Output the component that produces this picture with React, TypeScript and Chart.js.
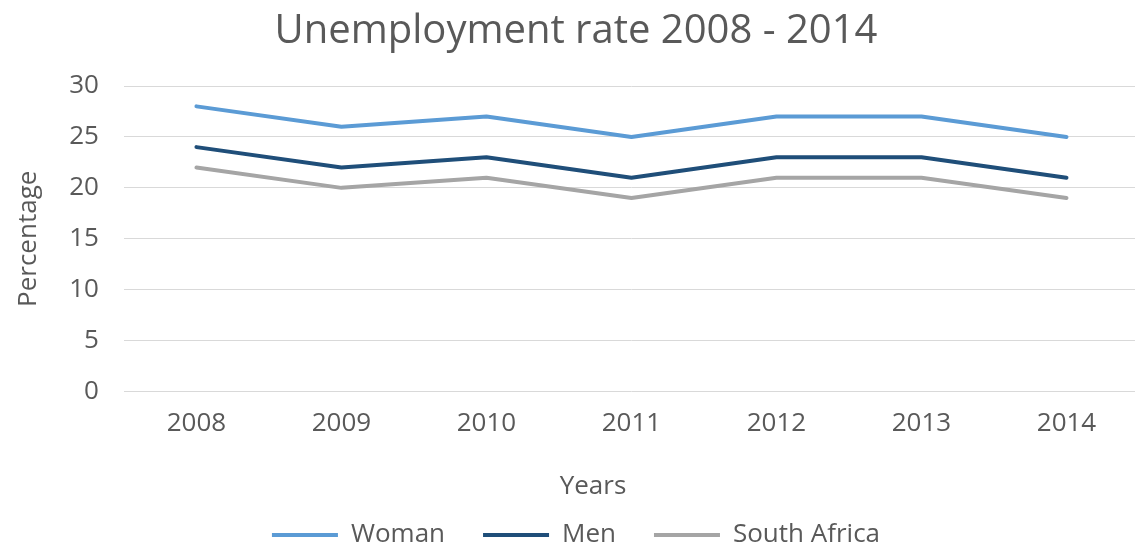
import React, { useEffect, useRef } from "react";
import { Chart, registerables } from "chart.js";

Chart.register(...registerables);

const categories = ["2008", "2009", "2010", "2011", "2012", "2013", "2014"];
const womanValues = [28, 26, 27, 25, 27, 27, 25];
const menValues = [24, 22, 23, 21, 23, 23, 21];
const southAfricaValues = [22, 20, 21, 19, 21, 21, 19];
const seriesNames = ["Woman", "Men", "South Africa"];
const chartTitle = "Unemployment rate 2008 - 2014";
const yAxisTitle = "Percentage";
const xAxisTitle = "Years";

const FONT = "'Open Sans', sans-serif";
const TEXT = "#595959";

export default function App() {
  const ref = useRef<HTMLCanvasElement | null>(null);

  useEffect(() => {
    const canvas = ref.current;
    if (!canvas) return;

    const xTitlePlugin = {
      id: "xTitleText",
      afterDraw(chart: any) {
        const ctx = chart.ctx;
        ctx.save();
        ctx.font = `26px ${FONT}`;
        ctx.fillStyle = TEXT;
        ctx.textAlign = "center";
        ctx.textBaseline = "middle";
        ctx.fillText(xAxisTitle, chart.width / 2 + 17, 487);
        ctx.restore();
      },
    };

    const mk = (label: string, data: number[], color: string) => ({
      label,
      data,
      borderColor: color,
      backgroundColor: color,
      borderWidth: 4,
      borderCapStyle: "round" as const,
      borderJoinStyle: "round" as const,
      pointRadius: 0,
      pointHoverRadius: 0,
      tension: 0,
      fill: false,
    });

    const chart = new Chart(canvas, {
      type: "line",
      data: {
        labels: categories,
        datasets: [
          mk(seriesNames[0], womanValues, "#5b9bd5"),
          mk(seriesNames[1], menValues, "#1f4e79"),
          mk(seriesNames[2], southAfricaValues, "#a5a5a5"),
        ],
      },
      options: {
        responsive: false,
        animation: false,
        layout: { padding: { left: 13, right: 13, top: 0, bottom: 0 } },
        plugins: {
          title: {
            display: true,
            text: chartTitle,
            color: TEXT,
            font: { family: FONT, size: 40, weight: "normal" },
            padding: { top: 8, bottom: 30 },
          },
          legend: {
            position: "bottom",
            labels: {
              usePointStyle: true,
              pointStyle: "line",
              pointStyleWidth: 66,
              padding: 38,
              color: TEXT,
              font: { family: FONT, size: 26 },
            },
          },
          tooltip: { enabled: false },
        },
        scales: {
          x: {
            offset: true,
            grid: { display: false },
            border: { display: false },
            ticks: {
              color: TEXT,
              font: { family: FONT, size: 26 },
              padding: 8,
              maxRotation: 0,
            },
            title: {
              display: true,
              text: xAxisTitle,
              color: "rgba(0,0,0,0)",
              font: { family: FONT, size: 26 },
              padding: { top: 0, bottom: 6 },
            },
          },
          y: {
            min: 0,
            max: 30,
            grid: { color: "#d9d9d9", lineWidth: 1, drawTicks: false },
            border: { display: false },
            ticks: {
              stepSize: 5,
              color: TEXT,
              font: { family: FONT, size: 26 },
              padding: 25,
            },
            title: {
              display: true,
              text: yAxisTitle,
              color: TEXT,
              font: { family: FONT, size: 26 },
              padding: { top: 0, bottom: 0 },
            },
          },
        },
      },
      plugins: [xTitlePlugin],
    });

    return () => chart.destroy();
  }, []);

  return (
    <div
      style={{
        position: "fixed",
        left: 0,
        top: 0,
        width: 1135,
        height: 547,
        overflow: "hidden",
        background: "#ffffff",
      }}
    >
      <canvas ref={ref} width={1152} height={558} style={{ display: "block" }} />
    </div>
  );
}
